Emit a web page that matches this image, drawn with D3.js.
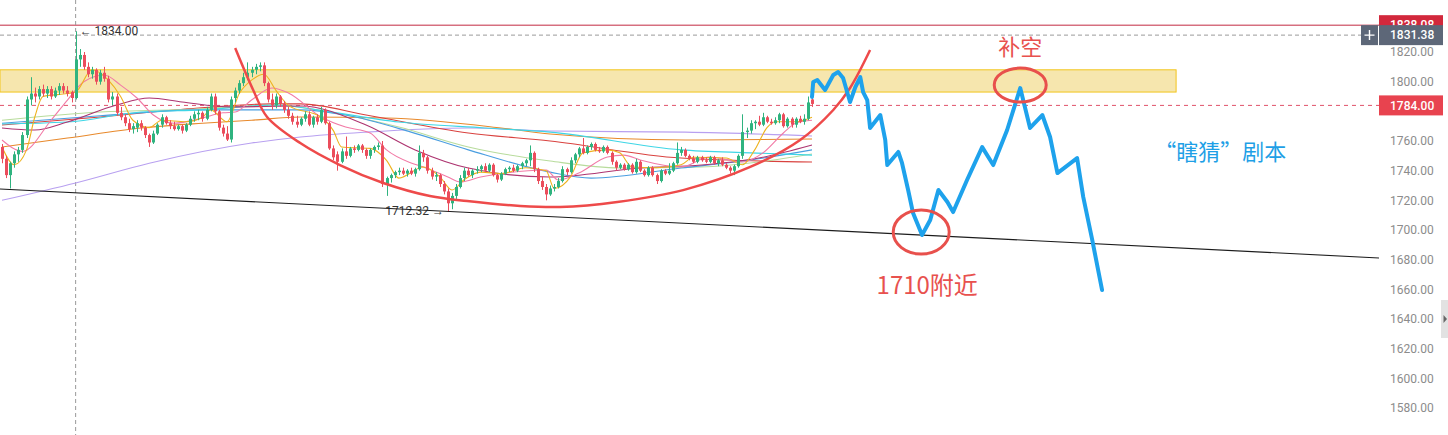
<!DOCTYPE html>
<html>
<meta http-equiv="content-type" content="text/html; charset=utf-8" />
<head>
  <title>Gold 1H</title>
  <script src="https://d3js.org/d3.v7.min.js"></script>
</head>
<style>
body { margin: 0; background: #fff; }
.axis text { font: 12px Roboto, sans-serif; fill: #8c8c8c; }
.axis path, .axis line { display: none; }
.tag text { font: 500 12px Roboto, sans-serif; fill: #fff; }
.note { font-family: "Noto Sans CJK SC", sans-serif; }
</style>
<body>
<svg class="chart"></svg>
<script>
// candles: [open, high, low, close]
var candles = [
  [1756,1758,1745,1748],[1748,1750,1735,1737],[1737,1746,1728,1745],[1745,1753,1742,1751],[1751,1756,1746,1754],
  [1754,1766,1752,1764],[1764,1790,1762,1788],[1788,1803,1784,1792],[1792,1796,1786,1790],[1790,1797,1788,1795],
  [1795,1798,1790,1792],[1792,1797,1789,1795],[1795,1797,1788,1790],[1790,1796,1789,1794],[1794,1799,1791,1797],
  [1797,1799,1792,1794],[1794,1797,1790,1792],[1793,1794,1786,1789],[1789,1834,1788,1815],[1815,1822,1810,1818],
  [1818,1820,1808,1810],[1810,1813,1803,1805],[1805,1810,1802,1808],[1808,1809,1798,1800],[1800,1808,1798,1806],
  [1806,1810,1800,1802],[1802,1804,1786,1788],[1788,1793,1784,1790],[1790,1792,1777,1779],[1779,1783,1774,1776],
  [1776,1778,1770,1772],[1772,1775,1766,1768],[1768,1772,1765,1770],[1769,1774,1766,1772],[1772,1774,1767,1769],
  [1769,1770,1762,1764],[1764,1765,1756,1759],[1759,1767,1758,1765],[1765,1772,1764,1771],[1771,1778,1769,1776],
  [1776,1777,1771,1772],[1772,1774,1768,1770],[1770,1773,1767,1768],[1768,1771,1767,1770],[1770,1771,1765,1767],
  [1767,1772,1766,1771],[1771,1777,1770,1775],[1775,1780,1773,1778],[1778,1781,1774,1779],[1779,1780,1773,1775],
  [1775,1783,1774,1781],[1781,1792,1780,1790],[1790,1792,1778,1780],[1780,1781,1767,1769],[1769,1771,1763,1765],
  [1765,1770,1760,1761],[1761,1790,1759,1788],[1789,1796,1786,1794],[1794,1801,1792,1799],[1799,1806,1797,1803],
  [1803,1813,1801,1806],[1806,1810,1803,1808],[1808,1812,1805,1810],[1810,1813,1807,1811],[1811,1813,1797,1799],
  [1799,1800,1786,1788],[1788,1792,1781,1784],[1784,1792,1782,1790],[1790,1791,1783,1785],[1785,1787,1779,1781],
  [1781,1783,1775,1777],[1777,1779,1771,1773],[1773,1777,1769,1771],[1771,1776,1770,1775],[1775,1780,1773,1778],
  [1778,1780,1770,1771],[1771,1777,1769,1776],[1776,1778,1771,1773],[1773,1783,1772,1781],[1781,1782,1771,1772],
  [1772,1773,1754,1755],[1755,1757,1747,1749],[1751,1753,1740,1746],[1746,1755,1745,1753],[1753,1763,1748,1750],
  [1750,1756,1749,1755],[1755,1757,1752,1754],[1754,1758,1753,1757],[1757,1758,1752,1754],[1754,1755,1748,1750],
  [1750,1755,1748,1754],[1754,1757,1752,1756],[1756,1759,1754,1757],[1757,1760,1729,1731],[1731,1736,1723,1735],
  [1735,1738,1732,1737],[1737,1740,1735,1739],[1739,1742,1737,1740],[1740,1742,1737,1738],[1738,1741,1736,1740],
  [1740,1742,1737,1738],[1738,1742,1736,1741],[1741,1757,1740,1752],[1752,1754,1746,1749],[1749,1750,1738,1740],
  [1740,1742,1734,1736],[1736,1739,1733,1737],[1737,1738,1729,1731],[1731,1733,1724,1726],[1726,1728,1712.32,1718],
  [1718,1725,1714,1723],[1723,1731,1721,1729],[1729,1737,1728,1735],[1735,1742,1733,1740],[1740,1742,1736,1737],
  [1737,1741,1735,1740],[1740,1743,1738,1741],[1741,1744,1739,1743],[1743,1745,1739,1740],[1740,1745,1739,1744],
  [1744,1745,1736,1737],[1737,1738,1732,1734],[1734,1739,1733,1738],[1738,1742,1737,1741],[1741,1743,1739,1742],
  [1742,1744,1739,1740],[1740,1744,1739,1743],[1743,1746,1741,1745],[1745,1748,1743,1747],[1747,1757,1743,1752],
  [1752,1753,1739,1741],[1741,1742,1731,1733],[1733,1736,1727,1729],[1729,1731,1720,1724],[1724,1730,1723,1728],
  [1728,1731,1726,1729],[1729,1735,1728,1733],[1733,1743,1732,1741],[1741,1742,1737,1739],[1739,1749,1738,1747],
  [1747,1752,1745,1751],[1751,1756,1749,1755],[1755,1762,1751,1752],[1752,1757,1751,1756],[1756,1759,1754,1758],
  [1758,1759,1753,1754],[1754,1756,1752,1753],[1753,1757,1752,1756],[1756,1757,1751,1752],[1752,1753,1744,1746],
  [1746,1747,1740,1742],[1742,1745,1741,1744],[1744,1745,1740,1741],[1741,1745,1740,1744],[1744,1745,1738,1739],
  [1739,1748,1738,1746],[1746,1747,1739,1740],[1740,1741,1736,1737],[1737,1743,1736,1742],[1742,1743,1736,1737],
  [1737,1738,1731,1733],[1733,1741,1732,1740],[1740,1741,1737,1738],[1738,1745,1737,1740],[1740,1746,1739,1745],
  [1745,1759,1744,1752],[1752,1756,1750,1754],[1754,1755,1749,1750],[1750,1751,1747,1748],[1748,1750,1745,1746],
  [1746,1750,1745,1749],[1749,1750,1746,1747],[1747,1749,1745,1746],[1746,1750,1745,1749],[1749,1750,1744,1745],
  [1745,1748,1743,1747],[1747,1749,1743,1744],[1744,1745,1741,1742],[1742,1743,1738,1740],[1740,1744,1737,1743],
  [1743,1751,1742,1750],[1750,1778,1748,1766],[1766,1769,1762,1767],[1767,1774,1765,1772],[1772,1774,1768,1773],
  [1773,1777,1770,1771],[1771,1779,1770,1776],[1776,1777,1772,1773],[1773,1775,1771,1772],[1772,1776,1771,1774],
  [1774,1779,1772,1778],[1778,1779,1769,1770],[1770,1776,1769,1775],[1775,1776,1769,1771],[1771,1776,1769,1775],
  [1775,1777,1772,1773],[1773,1778,1771,1775],[1775,1790,1774,1786],[1788,1793,1783,1785]
];

// moving averages: [candle index, price]
var maYellow = [[0,1756],[3,1744],[6,1754],[8,1776],[10,1790],[16,1792],[18,1793],[22,1808],[26,1801],[29,1790],[32,1774],[36,1769],[39,1774],[45,1773],[49,1776],[51,1781],[55,1773],[58,1792],[61,1801],[64,1805],[67,1794],[70,1784],[78,1776],[81,1767],[83,1756],[90,1755],[94,1747],[97,1735],[103,1742.5],[107,1736],[110,1727],[113,1734],[117,1739],[122,1738],[128,1742],[133,1740],[135,1728],[139,1736],[142,1752],[148,1754],[151,1752],[154,1742.5],[160,1742],[166,1744],[169,1749],[177,1748.5],[181,1744],[184,1754],[187,1769],[189,1773],[194,1773],[198,1776]];
var maPink = [[0,1760.7],[5,1753],[12,1774],[16,1787.6],[20,1800],[25,1804.5],[29,1797.7],[33,1789],[37,1777.5],[42,1772],[49,1775.5],[54,1779],[57,1779.5],[61,1787.6],[66,1795.7],[70,1792.4],[78,1776.2],[84,1769.4],[90,1765.4],[94,1754],[100,1745.2],[103,1742.5],[109,1735.7],[112,1732.3],[117,1735.7],[123,1738.4],[133,1740.4],[136,1733.7],[141,1738.4],[148,1749.2],[152,1750.5],[156,1747.2],[166,1742.5],[173,1749.2],[181,1745.8],[186,1752],[191,1765.4],[194,1772],[198,1774]];
var maCrimson = [[0,1768.8],[8,1767.4],[16,1772.8],[28,1784.3],[36,1789],[44,1786.3],[56,1783],[73,1783.6],[89,1770.8],[101,1754],[114,1741.8],[134,1735.7],[156,1741.8],[171,1743.8],[185,1748.5],[198,1757.3]];
var maCyan = [[0,1771.5],[16,1772.8],[34,1779.5],[49,1781],[67,1784.3],[77,1781],[97,1772.8],[118,1768.8],[134,1766],[166,1754],[183,1752],[198,1750.5]];
var maGreen = [[0,1774],[24,1779.5],[48,1781.6],[67,1784.3],[81,1779],[97,1769.4],[114,1756],[134,1746.5],[151,1741.8],[171,1742.5],[185,1745.8],[198,1751.2]];
var maBlue = [[0,1772],[24,1777],[48,1781],[73,1781],[84,1777.5],[100,1766],[114,1754],[134,1739],[144,1735],[166,1741.8],[183,1747.2],[198,1754]];
var maRed = [[0,1770.8],[24,1776.2],[48,1782.2],[66,1785],[73,1785],[89,1777.5],[114,1765.4],[134,1760],[166,1748.5],[198,1745.8]];
var maOrange = [[0,1756],[16,1762],[34,1768.8],[49,1772],[61,1774],[73,1776.2],[94,1775.5],[122,1768.8],[134,1764.7],[167,1760.7],[198,1761.3]];
var maLavender = [[0,1720],[18,1731.7],[36,1745],[61,1758.6],[73,1762.7],[89,1766],[114,1768.8],[134,1766.7],[167,1766],[198,1763.4]];

// drawings
var zone = [1793, 1808], zoneEnd = 287;
var trendLine = [[-0.5,1727.6],[337,1681.1]];
var cupArc = [[57,1822.7],[61.4,1794.4],[64.8,1776.2],[72.9,1758.6],[82.6,1743.8],[93.2,1731.7],[104.6,1722.9],[113.7,1719.5],[126.7,1716.2],[136.4,1715.5],[150.4,1718.9],[166.5,1726.9],[182.9,1742.5],[195.1,1760.7],[203.2,1780.9],[207.3,1795.7],[212.2,1821.3]];
var forecast = [[198,1789.7],[198.3,1799.8],[199.3,1801.1],[201.2,1794.4],[203.2,1804.5],[204.4,1806.5],[205.6,1802.5],[207.3,1786.3],[208.6,1796.4],[209.8,1803.1],[210.5,1793],[211.5,1787.6],[212.2,1768.8],[214.7,1777.5],[215.9,1760.7],[216.4,1743.8],[219.1,1752.6],[220,1745.2],[221.5,1727],[222.7,1711.4],[224.9,1696.6],[226.9,1706.7],[228.9,1727],[231.1,1718.9],[232.5,1712.1],[235.9,1733.7],[239.6,1755.9],[242.3,1743.8],[245.7,1767.4],[248.9,1795.7],[251.3,1768.8],[254.3,1777.5],[256.2,1762.7],[258,1738.4],[262.8,1748.5],[264.3,1722.3],[266.5,1693.3],[268.9,1659.6]];
var circles = [[224.7,1698.6],[248.9,1797.7]];

// 1780 sits under the 1784 tag, so it is not labelled
var yTicks = [1580,1600,1620,1640,1660,1680,1700,1720,1740,1760,1800,1820];
var highMark = 1834.00, lowMark = 1712.32, highIdx = 18, lowIdx = 109;
var tagHigh = 1838.08, tagLast = 1831.38, tagLine = 1784.00;

var width = 1448, height = 435, plotRight = 1379;

var x = d3.scaleLinear().domain([0, candles.length - 1]).range([2, 812]);
var y = d3.scaleLinear().domain([1580, 1820]).range([408, 52]);

var svg = d3.select(".chart").attr("width", width).attr("height", height);
svg.append("defs").append("clipPath").attr("id", "plotclip")
  .append("rect").attr("width", plotRight).attr("height", height);

var plot = svg.append("g").attr("clip-path", "url(#plotclip)");

// yellow zone
plot.append("rect")
  .attr("x", 0).attr("y", y(zone[1]))
  .attr("width", x(zoneEnd)).attr("height", y(zone[0]) - y(zone[1]))
  .attr("fill", "#f6e6ae").attr("stroke", "#f2c51c").attr("stroke-width", 1);

// level lines
plot.append("line").attr("x1", 0).attr("x2", plotRight)
  .attr("y1", y(tagHigh)).attr("y2", y(tagHigh))
  .attr("stroke", "#c22a42").attr("stroke-width", 1);
plot.append("line").attr("x1", 0).attr("x2", plotRight)
  .attr("y1", y(tagLast)).attr("y2", y(tagLast))
  .attr("stroke", "#9a9a9a").attr("stroke-dasharray", "4,3");
plot.append("line").attr("x1", 0).attr("x2", plotRight)
  .attr("y1", y(tagLine)).attr("y2", y(tagLine))
  .attr("stroke", "#e0526a").attr("stroke-dasharray", "4,4");
plot.append("line").attr("x1", x(highIdx)).attr("x2", x(highIdx))
  .attr("y1", 0).attr("y2", height)
  .attr("stroke", "#9a9a9a").attr("stroke-dasharray", "4,3");

// moving averages
var maLine = d3.line()
  .x(function(d) { return x(d[0]); })
  .y(function(d) { return y(d[1]); })
  .curve(d3.curveMonotoneX);

[[maLavender, "#b8a0f0"], [maOrange, "#e8892b"], [maRed, "#d9423f"], [maGreen, "#b8dc9c"],
 [maBlue, "#4a9ee0"], [maCyan, "#3ed6e6"], [maCrimson, "#ad3470"], [maPink, "#f27aa6"],
 [maYellow, "#eeb21e"]].forEach(function(m) {
  plot.append("path").attr("d", maLine(m[0]))
    .attr("fill", "none").attr("stroke", m[1]).attr("stroke-width", 1.1);
});

// candles
var up = "#2fb37f", down = "#eb4d5c";
var bar = plot.selectAll(".candle").data(candles).enter().append("g");
bar.append("line")
  .attr("x1", function(d, i) { return Math.round(x(i)) + 0.5; })
  .attr("x2", function(d, i) { return Math.round(x(i)) + 0.5; })
  .attr("y1", function(d) { return y(d[1]); })
  .attr("y2", function(d) { return y(d[2]); })
  .attr("stroke", function(d) { return d[3] >= d[0] ? up : down; });
bar.append("rect")
  .attr("x", function(d, i) { return Math.round(x(i)) - 1; })
  .attr("width", 3)
  .attr("y", function(d) { return y(Math.max(d[0], d[3])); })
  .attr("height", function(d) { return Math.max(1, Math.abs(y(d[0]) - y(d[3]))); })
  .attr("fill", function(d) { return d[3] >= d[0] ? up : down; });

// high / low marks
plot.append("text").attr("x", x(highIdx) + 4).attr("y", y(highMark)).attr("dy", ".35em")
  .style("font", "12px Roboto, sans-serif").attr("fill", "#333").text("\u2190 1834.00");
plot.append("text").attr("x", x(lowIdx) - 4).attr("y", y(lowMark) - 1).attr("dy", ".35em")
  .style("font", "12px Roboto, sans-serif").attr("fill", "#333").attr("text-anchor", "end")
  .text("1712.32 \u2192");

// trend line
plot.append("line")
  .attr("x1", x(trendLine[0][0])).attr("y1", y(trendLine[0][1]))
  .attr("x2", x(trendLine[1][0])).attr("y2", y(trendLine[1][1]))
  .attr("stroke", "#1c1c1c").attr("stroke-width", 1.1);

// cup arc
plot.append("path")
  .attr("d", d3.line().x(function(d) { return x(d[0]); }).y(function(d) { return y(d[1]); })
    .curve(d3.curveCatmullRom)(cupArc))
  .attr("fill", "none").attr("stroke", "#ee4a4a").attr("stroke-width", 2.5);

// forecast path
plot.append("path")
  .attr("d", d3.line().x(function(d) { return x(d[0]); }).y(function(d) { return y(d[1]); })(forecast))
  .attr("fill", "none").attr("stroke", "#1ea2ec").attr("stroke-width", 4)
  .attr("stroke-linejoin", "round").attr("stroke-linecap", "round");

// circles
plot.append("ellipse").attr("cx", x(circles[0][0])).attr("cy", y(circles[0][1]))
  .attr("rx", 28).attr("ry", 22)
  .attr("fill", "none").attr("stroke", "#e8504c").attr("stroke-width", 3);
plot.append("ellipse").attr("cx", x(circles[1][0])).attr("cy", y(circles[1][1]))
  .attr("rx", 26).attr("ry", 17)
  .attr("fill", "none").attr("stroke", "#e8504c").attr("stroke-width", 3);

// notes
plot.append("text").attr("class", "note")
  .attr("x", x(circles[1][0])).attr("y", y(circles[1][1]) - 30)
  .attr("text-anchor", "middle").attr("font-size", 22).attr("fill", "#e8514e").text("补空");
plot.append("text").attr("class", "note")
  .attr("x", x(circles[0][0]) + 6).attr("y", y(circles[0][1]) + 62)
  .attr("text-anchor", "middle").attr("font-size", 24).attr("fill", "#e8514e").text("1710附近");
plot.append("text").attr("class", "note")
  .attr("x", x(297.8)).attr("y", y(1747))
  .attr("text-anchor", "middle").attr("font-size", 22).attr("fill", "#1e9fe6").text("“瞎猜”剧本");

// price axis
var yAxis = d3.axisRight(y).tickValues(yTicks)
  .tickFormat(d3.format(".2f")).tickSize(0).tickPadding(11);
svg.append("g").attr("class", "axis")
  .attr("transform", "translate(" + plotRight + ",0)").call(yAxis);

// price tags
function tag(v, color) {
  var g = svg.append("g").attr("class", "tag");
  g.append("rect").attr("x", plotRight).attr("y", y(v) - 10)
    .attr("width", 64).attr("height", 20).attr("fill", color);
  g.append("text").attr("x", plotRight + 11).attr("y", y(v)).attr("dy", ".35em")
    .text(d3.format(".2f")(v));
}
tag(tagHigh, "#d2283c");
tag(tagLast, "#5d6778");
tag(tagLine, "#e8434f");

// plus button
svg.append("rect").attr("x", plotRight - 18).attr("y", y(tagLast) - 10)
  .attr("width", 17).attr("height", 20).attr("fill", "#5d6778");
svg.append("path")
  .attr("d", "M" + (plotRight - 14.5) + "," + y(tagLast) + "h10M" + (plotRight - 9.5) + "," + (y(tagLast) - 5) + "v10")
  .attr("stroke", "#fff").attr("stroke-width", 1.4);

// side handle
svg.append("rect").attr("x", 1441).attr("y", 300).attr("width", 7).attr("height", 38).attr("fill", "#e2e2e2");
svg.append("path").attr("d", "M1443.5,315L1447,319L1443.5,323Z").attr("fill", "#666");
</script>
</body>
</html>
